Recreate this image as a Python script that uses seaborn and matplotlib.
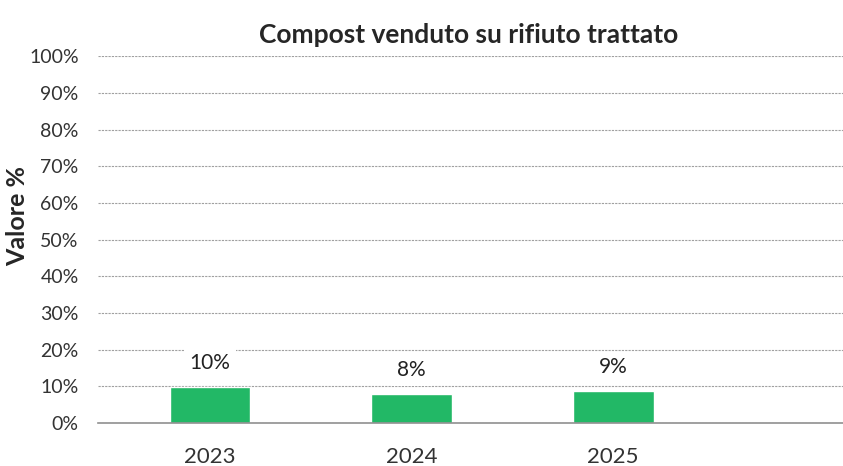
import matplotlib
matplotlib.use("Agg")
import matplotlib.pyplot as plt
import seaborn as sns
import pandas as pd
from matplotlib.ticker import PercentFormatter

anni = ["2023", "2024", "2025"]
valori = [0.099, 0.079, 0.087]
etichette = ["10%", "8%", "9%"]

sns.set_theme(style="white")
plt.rcParams["font.family"] = ["Lato", "DejaVu Sans"]

df = pd.DataFrame({"anno": anni, "valore": valori})

fig = plt.figure(figsize=(8.43, 4.66), dpi=100)
ax = fig.add_axes([0.1163, 0.0923, 0.8837, 0.7865])

sns.barplot(data=df, x="anno", y="valore", color="#22B866", width=0.40,
            saturation=1, ax=ax, zorder=3)

ax.set_ylim(0, 1)
ax.set_xlim(-0.556, 3.14)
ax.set_yticks([i / 10 for i in range(11)])
ax.yaxis.set_major_formatter(PercentFormatter(1.0, decimals=0))
ax.grid(axis="y", color="#a0a0a0", linestyle=(0, (2, 1)), linewidth=0.8, zorder=0)
ax.set_axisbelow(True)

for s in ["top", "right", "left"]:
    ax.spines[s].set_visible(False)
ax.spines["bottom"].set_color("#909090")
ax.spines["bottom"].set_linewidth(1.2)
ax.spines["bottom"].set_zorder(4)

ax.tick_params(axis="y", length=0, pad=14, labelsize=14, labelcolor="#333333")
ax.tick_params(axis="x", length=0, pad=17, labelsize=16, labelcolor="#333333")

for i, (v, t) in enumerate(zip(valori, etichette)):
    ax.annotate(t, (i, v), xytext=(0, 17), textcoords="offset points",
                ha="center", va="center", fontsize=15, color="#222222", zorder=5,
                bbox=dict(facecolor="white", edgecolor="none", pad=4))

ax.set_xlabel("")
ax.set_ylabel("Valore %", fontsize=18, fontweight="bold")
ax.yaxis.set_label_coords(-0.092, 0.565)
ax.set_title("Compost venduto su rifiuto trattato", fontsize=19, fontweight="bold",
             pad=10, x=(469 - 98) / (843 - 98))

fig.savefig("out.png", dpi=100)
